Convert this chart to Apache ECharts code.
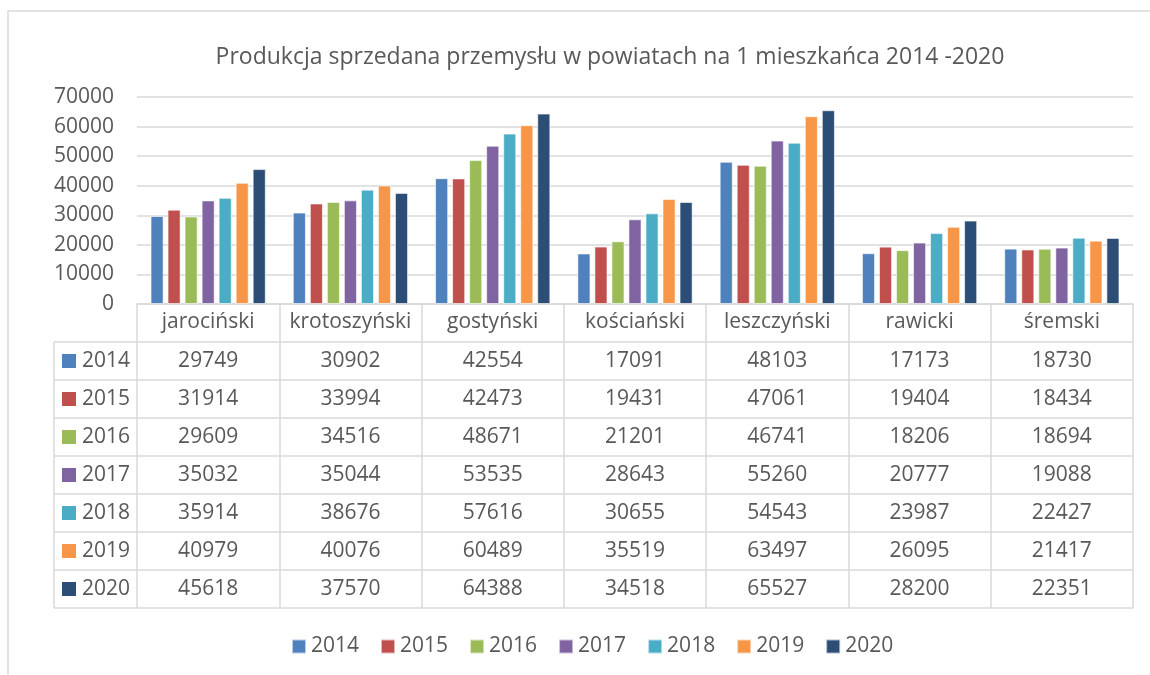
<!DOCTYPE html>
<html>
<head>
<meta charset="utf-8">
<script src="https://cdn.jsdelivr.net/npm/echarts@6/dist/echarts.min.js"></script>
<style>
  html, body { margin: 0; padding: 0; background: #fff; }
  #chart { width: 1150px; height: 675px; }
</style>
</head>
<body>
<div id="chart"></div>
<script>
const categories = ['jarociński', 'krotoszyński', 'gostyński', 'kościański', 'leszczyński', 'rawicki', 'śremski'];
const years = ['2014', '2015', '2016', '2017', '2018', '2019', '2020'];
const v2014 = [29749, 30902, 42554, 17091, 48103, 17173, 18730];
const v2015 = [31914, 33994, 42473, 19431, 47061, 19404, 18434];
const v2016 = [29609, 34516, 48671, 21201, 46741, 18206, 18694];
const v2017 = [35032, 35044, 53535, 28643, 55260, 20777, 19088];
const v2018 = [35914, 38676, 57616, 30655, 54543, 23987, 22427];
const v2019 = [40979, 40076, 60489, 35519, 63497, 26095, 21417];
const v2020 = [45618, 37570, 64388, 34518, 65527, 28200, 22351];
const yTicks = [0, 10000, 20000, 30000, 40000, 50000, 60000, 70000];

const values = [v2014, v2015, v2016, v2017, v2018, v2019, v2020];
const colors = ['#4F81BD', '#C0504D', '#9BBB59', '#8064A2', '#4BACC6', '#F79646', '#2C4D75'];
const font = 'Open Sans';
const txt = '#595959';
const line = '#d9d9d9';
const rowH = 38;
const fs = 21;

const chart = echarts.init(document.getElementById('chart'));

chart.setOption({
  animation: false,
  color: colors,
  textStyle: { fontFamily: font },
  title: {
    text: 'Produkcja sprzedana przemysłu w powiatach na 1 mieszkańca 2014 -2020',
    left: 605,
    textAlign: 'center',
    top: 41,
    textStyle: { fontSize: 23, fontWeight: 'normal', color: txt, fontFamily: font },
  },
  legend: {
    data: years,
    left: 286,
    top: 631,
    icon: 'rect',
    itemWidth: 14,
    itemHeight: 14,
    itemGap: 21,
    textStyle: { fontSize: fs, color: txt, fontFamily: font },
  },
  grid: {
    left: 137,
    right: 17,
    top: 97,
    bottom: 371,
  },
  xAxis: {
    type: 'category',
    data: categories,
    axisLine: { lineStyle: { color: line, width: 1.5 } },
    axisTick: { show: true, length: rowH * 8, interval: 0, lineStyle: { color: line, width: 1.5 } },
    axisLabel: { fontSize: fs, color: txt, margin: 8, interval: 0 },
  },
  yAxis: {
    type: 'value',
    min: yTicks[0],
    max: yTicks[yTicks.length - 1],
    interval: 10000,
    axisLine: { show: false },
    axisTick: { show: false },
    axisLabel: { fontSize: fs, color: txt, margin: 23, formatter: (v) => String(v) },
    splitLine: { lineStyle: { color: line, width: 1.5 } },
  },
  series: years.map((y, i) => ({
    name: y,
    type: 'bar',
    data: values[i],
    barGap: '30%',
    barCategoryGap: '19%',
    itemStyle: { borderColor: 'rgba(255,255,255,0.6)', borderWidth: 1 },
  })),
});

// data table under the plot, placed from the axis scales
const cx0 = chart.convertToPixel({ xAxisIndex: 0 }, 0);
const cx1 = chart.convertToPixel({ xAxisIndex: 0 }, 1);
const colW = cx1 - cx0;
const yZero = chart.convertToPixel({ yAxisIndex: 0 }, 0);
const tLeft = 54;
const tRight = cx0 + colW * (categories.length - 0.5);

const els = [];
els.push({
  type: 'rect',
  shape: { x: 8, y: 11, width: 1160, height: 700 },
  style: { fill: 'none', stroke: line, lineWidth: 1.5 },
  silent: true,
});
for (let k = 1; k <= years.length + 1; k++) {
  const y = yZero + k * rowH;
  els.push({ type: 'line', shape: { x1: tLeft, y1: y, x2: tRight, y2: y }, style: { stroke: line, lineWidth: 1.5 } });
}
els.push({ type: 'line', shape: { x1: tLeft, y1: yZero + rowH, x2: tLeft, y2: yZero + rowH * 8 }, style: { stroke: line, lineWidth: 1.5 } });

years.forEach((y, i) => {
  const cy = yZero + rowH * (i + 1) + rowH / 2;
  els.push({ type: 'rect', shape: { x: 62, y: cy - 7, width: 14, height: 14 }, style: { fill: colors[i] } });
  els.push({
    type: 'text', x: 82, y: cy,
    style: { text: y, font: fs + 'px ' + font, fill: txt, verticalAlign: 'middle' },
  });
  values[i].forEach((v, j) => {
    els.push({
      type: 'text',
      x: chart.convertToPixel({ xAxisIndex: 0 }, j),
      y: cy,
      style: { text: String(v), font: fs + 'px ' + font, fill: txt, align: 'center', verticalAlign: 'middle' },
    });
  });
});

chart.setOption({ graphic: els });
</script>
</body>
</html>
